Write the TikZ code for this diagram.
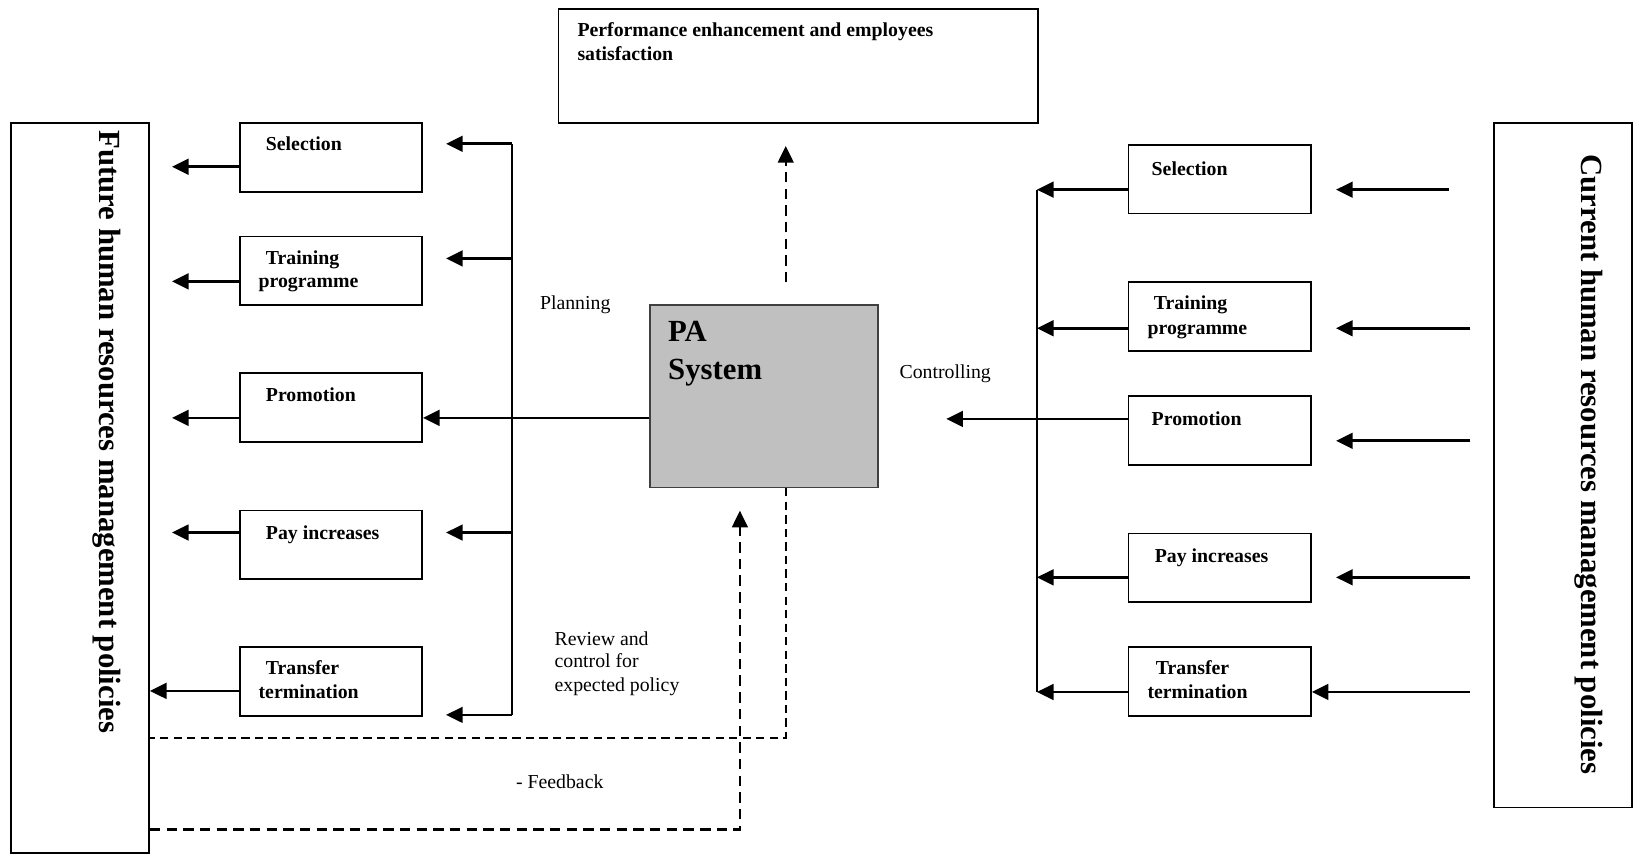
\documentclass[tikz,border=0pt]{standalone}
\usepackage{fontspec}
\setmainfont{Liberation Serif}
\usetikzlibrary{arrows.meta}
\begin{document}
\begin{tikzpicture}[x=1pt,y=-1pt,
  box/.style={draw, line width=1.8pt, inner sep=0pt, anchor=north west, minimum width=175pt, minimum height=66pt},
  bigbox/.style={draw, line width=1.8pt, inner sep=0pt, anchor=north west},
  arr/.style={line width=2.6pt, -{Triangle[length=16pt,width=15pt]}},
  ln/.style={line width=1.8pt},
  dsh/.style={line width=2.2pt, dash pattern=on 8pt off 5pt},
  dsharr/.style={line width=2.2pt, dash pattern=on 10pt off 6pt, -{Triangle[length=16pt,width=15pt]}},
  lbl/.style={font=\fontsize{19}{23}\selectfont\bfseries, anchor=base west, inner sep=0pt},
  reg/.style={font=\fontsize{19}{23}\selectfont, anchor=base west, inner sep=0pt},
  big/.style={font=\fontsize{29.5}{34}\selectfont\bfseries, inner sep=0pt},
]
\useasboundingbox[fill=white] (0,0) rectangle (1568,820);

% big side boxes
\node[bigbox, minimum width=132pt, minimum height=701pt] (L) at (10,117) {};
\node[bigbox, minimum width=132pt, minimum height=657pt] (R) at (1433,117) {};
\node[big, rotate=-90, anchor=west] (Ltxt) at (102,125) {Future human resources management policies};
\node[big, rotate=-90, anchor=west] (Rtxt) at (1525,148) {Current human resources management policies};

% top box
\node[bigbox, minimum width=460pt, minimum height=109pt] (T) at (535,8) {};
\node[lbl] (Tt1) at (554,35) {Performance enhancement and employees};
\node[lbl] (Tt2) at (554,58) {satisfaction};

% PA system
\node[bigbox, fill={rgb,255:red,192;green,192;blue,192}, draw=black!75, line width=1.4pt, minimum width=219pt, minimum height=175pt] (PA) at (623,292) {};
\node[big, anchor=base west] (PAt1) at (641,328) {PA};
\node[big, anchor=base west] (PAt2) at (641,364) {System};

% left boxes
\node[box] (ls) at (229,117) {};
\node[box] (lt) at (229,226) {};
\node[box] (lp) at (229,357) {};
\node[box] (lpy) at (229,489) {};
\node[box] (ltr) at (229,620) {};
\node[lbl] (lst) at (255,144) {Selection};
\node[lbl] (ltt1) at (255,254) {Training};
\node[lbl] (ltt2) at (248,276) {programme};
\node[lbl] (lpt) at (255,385) {Promotion};
\node[lbl] (lpyt) at (255,518) {Pay increases};
\node[lbl] (ltrt1) at (255,647) {Transfer};
\node[lbl] (ltrt2) at (248,670) {termination};

% right boxes
\node[box] (rs) at (1082,138) {};
\node[box] (rt) at (1082,270) {};
\node[box] (rp) at (1082,379) {};
\node[box] (rpy) at (1082,511) {};
\node[box] (rtr) at (1082,620) {};
\node[lbl] (rst) at (1105,168) {Selection};
\node[lbl] (rtt1) at (1107,297) {Training};
\node[lbl] (rtt2) at (1101,321) {programme};
\node[lbl] (rpt) at (1105,408) {Promotion};
\node[lbl] (rpyt) at (1108,540) {Pay increases};
\node[lbl] (rtrt1) at (1109,647) {Transfer};
\node[lbl] (rtrt2) at (1101,670) {termination};

% labels
\node[reg] (plan) at (518,297) {Planning};
\node[reg] (ctrl) at (863,363) {Controlling};
\node[reg] (rev1) at (532,619) {Review and};
\node[reg] (rev2) at (532,641) {control for};
\node[reg] (rev3) at (532,664) {expected policy};
\node[reg] (fb) at (495,757) {- Feedback};

% left outgoing arrows
\coordinate (lo1) at (165,160);
\coordinate (lo2) at (165,270);
\coordinate (lo3) at (165,401);
\coordinate (lo4) at (165,511);
\coordinate (lo5) at (142,663);
\draw[arr] (ls.west |- lo1) -- (lo1);
\draw[arr] (lt.west |- lo2) -- (lo2);
\draw[arr] (lp.west |- lo3) -- (lo3);
\draw[arr] (lpy.west |- lo4) -- (lo4);
\draw[arr] (ltr.west |- lo5) -- (L.east |- lo5);

% planning distribution
\coordinate (vt) at (491,138);
\coordinate (v2) at (491,248);
\coordinate (v4) at (491,511);
\coordinate (vb) at (491,686);
\coordinate (pl1) at (428,138);
\coordinate (pl2) at (428,248);
\coordinate (pl4) at (428,511);
\coordinate (pl5) at (428,686);
\draw[ln] (vt) -- (vb);
\draw[arr] (vt) -- (pl1);
\draw[arr] (v2) -- (pl2);
\draw[arr] (v4) -- (pl4);
\draw[arr] (vb) -- (pl5);
\coordinate (ya) at (500,401);
\draw[arr] (PA.west |- ya) -- (lp.east |- ya);

% right side
\coordinate (wt) at (995,182);
\coordinate (wb) at (995,664);
\draw[ln] (wt) -- (wb);
\coordinate (w2) at (995,315);
\coordinate (w4) at (995,554);
\draw[arr] (rs.west |- wt) -- (wt);
\draw[arr] (rt.west |- w2) -- (w2);
\draw[arr] (rpy.west |- w4) -- (w4);
\draw[arr] (rtr.west |- wb) -- (wb);
\coordinate (ctip) at (908,402);
\draw[arr] (rp.west |- ctip) -- (ctip);

\coordinate (ri1) at (1390,182);
\coordinate (ri2) at (1411,315);
\coordinate (ri3) at (1411,423);
\coordinate (ri4) at (1411,554);
\coordinate (ri5) at (1411,664);
\coordinate (rk1) at (1282,182);
\coordinate (rk2) at (1282,315);
\coordinate (rk3) at (1282,423);
\coordinate (rk4) at (1282,554);
\draw[arr] (ri1) -- (rk1);
\draw[arr] (ri2) -- (rk2);
\draw[arr] (ri3) -- (rk3);
\draw[arr] (ri4) -- (rk4);
\draw[arr] (ri5) -- (rtr.east |- ri5);

% dashed connectors
\coordinate (up0) at (754,271);
\coordinate (up1) at (754,140);
\draw[dsharr] (up0) -- (up1);
\coordinate (d1) at (754,708);
\draw[dsh] (PA.south -| d1) -- (d1) -- (L.east |- d1);
\coordinate (d2) at (710,796);
\coordinate (d3) at (710,490);
\draw[dsharr] (L.east |- d2) -- (d2) -- (d3);
\end{tikzpicture}
\end{document}
